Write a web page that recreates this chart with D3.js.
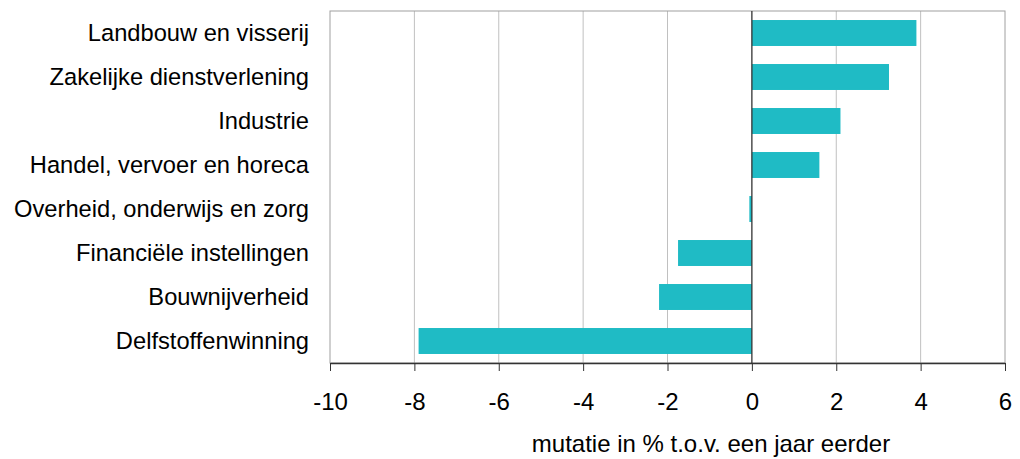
<!DOCTYPE html>
<html><head><meta charset="utf-8">
<script src="https://cdn.jsdelivr.net/npm/d3@7"></script>
<style>body{margin:0;background:#fff}svg{display:block}text{font-family:"Liberation Sans",Arial,sans-serif}</style>
</head><body>
<svg id="c" width="1020" height="459"></svg>
<script>
const categories = ["Landbouw en visserij","Zakelijke dienstverlening","Industrie","Handel, vervoer en horeca","Overheid, onderwijs en zorg","Financiële instellingen","Bouwnijverheid","Delfstoffenwinning"];
const values = [3.9, 3.25, 2.1, 1.6, -0.06, -1.75, -2.2, -7.9];
const xTicks = [-10,-8,-6,-4,-2,0,2,4,6];
const xTitle = "mutatie in % t.o.v. een jaar eerder";

const svg = d3.select("#c");
const L = 330, R = 1005, T = 11, B = 363;
const FS = 24;
const x = d3.scaleLinear().domain([-10,6]).range([L,R]);
const y = d3.scaleBand().domain(categories).range([T,B]).paddingInner(0.41).paddingOuter(0.205);

// gridlines
svg.append("g").selectAll("line").data(xTicks.filter(t=>t!==0 && t!==-10 && t!==6)).join("line")
  .attr("x1",d=>x(d)).attr("x2",d=>x(d)).attr("y1",T).attr("y2",B)
  .attr("stroke","#c0c0c0").attr("stroke-width",1);
// frame
svg.append("rect").attr("x",L).attr("y",T).attr("width",R-L).attr("height",B-T)
  .attr("fill","none").attr("stroke","#a0a0a0").attr("stroke-width",1);

// bars
svg.append("g").selectAll("rect").data(values).join("rect")
  .attr("x",(d)=>x(Math.min(0,d))).attr("width",d=>Math.abs(x(d)-x(0)))
  .attr("y",(d,i)=>y(categories[i])).attr("height",y.bandwidth())
  .attr("fill","#1fbbc5");

// zero line
svg.append("line").attr("x1",x(0)).attr("x2",x(0)).attr("y1",T).attr("y2",B)
  .attr("stroke","#333").attr("stroke-width",1.3);

// x axis
const xa = svg.append("g").attr("transform",`translate(0,${B})`)
  .call(d3.axisBottom(x).tickValues(xTicks).tickSize(8).tickSizeOuter(0).tickPadding(22).tickFormat(d=>d));
xa.select(".domain").attr("stroke","#333").attr("stroke-width",1.3);
xa.selectAll(".tick line").attr("stroke","#333");
xa.selectAll("text").attr("font-size",FS).attr("fill","#000").attr("font-family","'Liberation Sans',Arial,sans-serif");

// y labels
const ya = svg.append("g").attr("transform",`translate(${L},0)`)
  .call(d3.axisLeft(y).tickSize(0).tickPadding(21));
ya.select(".domain").remove();
ya.selectAll("text").attr("font-size",23.7).attr("fill","#000").attr("font-family","'Liberation Sans',Arial,sans-serif");

svg.append("text").attr("x",711).attr("y",452).attr("text-anchor","middle")
  .attr("font-size",FS).attr("fill","#000").text(xTitle);
</script>
</body></html>
